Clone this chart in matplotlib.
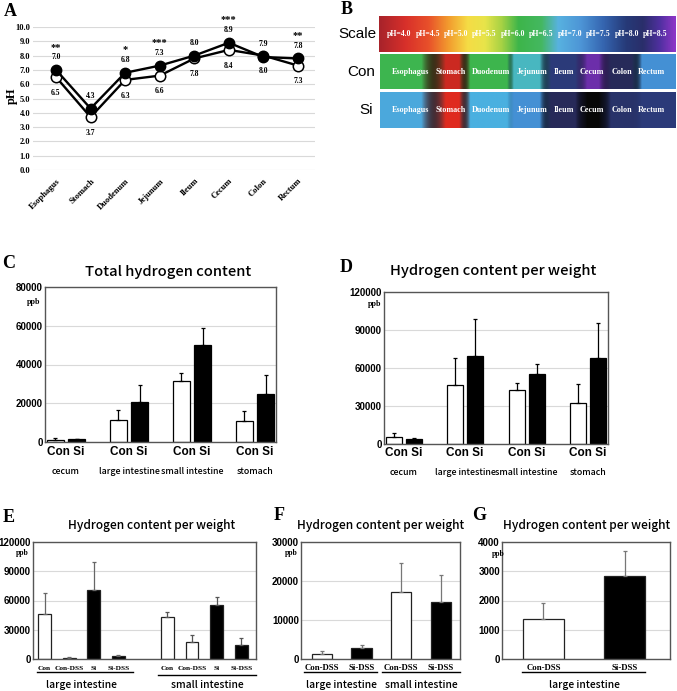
import numpy as np
import matplotlib
matplotlib.use('Agg')
import matplotlib.pyplot as plt
from matplotlib.colors import LinearSegmentedColormap

# ---------------- data ----------------
segments = ['Esophagus', 'Stomach', 'Duodenum', 'Jejunum', 'Ileum', 'Cecum', 'Colon', 'Rectum']
ph_con = [6.5, 3.7, 6.3, 6.6, 7.8, 8.4, 8.0, 7.3]
ph_si = [7.0, 4.3, 6.8, 7.3, 8.0, 8.9, 7.9, 7.8]
ph_sig = ['**', '', '*', '***', '', '***', '', '**']
scale_ph = [4.0, 4.5, 5.0, 5.5, 6.0, 6.5, 7.0, 7.5, 8.0, 8.5]

organs_cd = ['cecum', 'large intestine', 'small intestine', 'stomach']
total_con = [1200, 11500, 31400, 10600]
total_con_sd = [700, 4800, 4400, 5200]
total_si = [1300, 20700, 49900, 24800]
total_si_sd = [400, 8800, 9100, 9600]
perw_con = [5300, 46500, 42500, 32300]
perw_con_sd = [3100, 21500, 5800, 14700]
perw_si = [3700, 69800, 54900, 68000]
perw_si_sd = [1300, 28900, 8600, 27500]

groups_e = ['Con', 'Con-DSS', 'Si', 'Si-DSS']
e_large = [46500, 1400, 70400, 3100]
e_large_sd = [21200, 600, 28700, 700]
e_small = [42600, 17000, 54900, 14300]
e_small_sd = [5800, 7200, 8500, 7200]

groups_f = ['Con-DSS', 'Si-DSS']
f_large = [1370, 2850]
f_large_sd = [600, 850]
f_small = [17300, 14600]
f_small_sd = [7300, 6900]

g_large = [1370, 2850]
g_large_sd = [550, 830]

# ---------------- setup ----------------
W, H = 677, 691
SERIF = 'Liberation Serif'
SANS = 'Liberation Sans'
GOTH = 'Noto Sans CJK JP'

fig = plt.figure(figsize=(W / 100, H / 100), dpi=100)


def rect(l, t, r, b):
    return [l / W, 1 - b / H, (r - l) / W, (b - t) / H]


def ftext(x, y, s, **kw):
    fig.text(x / W, 1 - y / H, s, **kw)


def letter(x, y, s):
    ftext(x, y, s, fontfamily=SERIF, fontweight='bold', fontsize=13, ha='center', va='center')


# ---------------- Panel A ----------------
axA = fig.add_axes(rect(33, 27, 315, 170))
xa = np.arange(len(segments))
axA.plot(xa, ph_con, '-o', color='black', lw=1.7, ms=7.5, mfc='white', mec='black', mew=1.1, zorder=3)
axA.plot(xa, ph_si, '-o', color='black', lw=1.7, ms=7.5, mfc='black', mec='black', zorder=4)
axA.set_xlim(-0.665, 7.49)
axA.set_ylim(0, 10)
yt = np.arange(0, 10.01, 1.0)
axA.set_yticks(yt)
axA.set_yticklabels([f"{v:.1f}" for v in yt], fontfamily=SERIF, fontweight='bold', fontsize=6)
axA.set_xticks(xa)
axA.set_xticklabels(segments, fontfamily=SERIF, fontweight='bold', fontsize=6.2,
                    rotation=45, ha='right', rotation_mode='anchor')
axA.tick_params(length=0, pad=2)
axA.tick_params(axis='x', pad=5)
axA.grid(axis='y', color='#d9d9d9', lw=0.8)
axA.set_axisbelow(True)
for s in axA.spines.values():
    s.set_visible(False)
for i in range(len(segments)):
    axA.text(i, ph_si[i] + 0.9, f"{ph_si[i]:.1f}", ha='center', va='center',
             fontfamily=SERIF, fontweight='bold', fontsize=5.5)
    axA.text(i, ph_con[i] - 1.1, f"{ph_con[i]:.1f}", ha='center', va='center',
             fontfamily=SERIF, fontweight='bold', fontsize=5.5)
    if ph_sig[i]:
        axA.text(i, ph_si[i] + 1.6, ph_sig[i], ha='center', va='center',
                 fontfamily=SERIF, fontweight='bold', fontsize=7.5)
ftext(12, 96, 'pH', fontfamily=SERIF, fontweight='bold', fontsize=9, rotation=90, ha='center', va='center')
letter(10, 11, 'A')

# ---------------- Panel B ----------------
SCALE_LO, SCALE_HI = 3.64, 8.87
scale_stops = [(3.64, '#a8232b'), (4.1, '#d8302a'), (4.5, '#e8502a'), (4.85, '#f29a2e'),
               (5.2, '#f5dc45'), (5.5, '#e8e44a'), (5.8, '#a6d244'), (6.1, '#3db54a'),
               (6.5, '#44b860'), (6.8, '#58b2e0'), (7.2, '#4d95d6'), (7.6, '#3565b0'),
               (8.0, '#263a78'), (8.3, '#2a2e6a'), (8.6, '#5030a0'), (8.87, '#8e36c8')]
scale_cmap = LinearSegmentedColormap.from_list(
    'scale', [((p - SCALE_LO) / (SCALE_HI - SCALE_LO), c) for p, c in scale_stops])

BAR_LO, BAR_HI = 3.5, 9.0
bar_stops = [(3.5, '#c02620'), (3.7, '#cc2a22'), (4.3, '#e02a1e'), (5.2, '#f3d040'),
             (6.0, '#3cb44a'), (6.5, '#3eb650'), (6.6, '#48b8c0'), (6.8, '#4ab0e0'),
             (7.0, '#4ca8dc'), (7.3, '#4490d4'), (7.8, '#2c3c7c'), (8.0, '#262a58'),
             (8.4, '#7030b0'), (8.9, '#080808'), (9.0, '#050505')]
bar_cmap = LinearSegmentedColormap.from_list(
    'bar', [((p - BAR_LO) / (BAR_HI - BAR_LO), c) for p, c in bar_stops])

plateaus = [(0.0, 0.14), (0.222, 0.268), (0.305, 0.43), (0.452, 0.54),
            (0.578, 0.66), (0.70, 0.74), (0.78, 0.85), (0.885, 1.0)]
label_pos = [0.104, 0.239, 0.375, 0.512, 0.62, 0.717, 0.816, 0.917]


def profile_image(values, n=900):
    cols = [np.array(bar_cmap((v - BAR_LO) / (BAR_HI - BAR_LO))[:3]) for v in values]
    xs = (np.arange(n) + 0.5) / n
    img = np.zeros((n, 3))
    for k, x in enumerate(xs):
        done = False
        for i, (a, b) in enumerate(plateaus):
            if a <= x <= b:
                img[k] = cols[i]
                done = True
                break
        if done:
            continue
        for i in range(len(plateaus) - 1):
            e0 = plateaus[i][1]
            s1 = plateaus[i + 1][0]
            if e0 < x < s1:
                t = (x - e0) / (s1 - e0)
                c = (1 - t) * cols[i] + t * cols[i + 1]
                d = min(1.0, np.linalg.norm(cols[i] - cols[i + 1]) / 0.75)
                img[k] = c * (1 - 0.55 * np.sin(np.pi * t) * d)
                break
    return img[None, :, :]


axS = fig.add_axes(rect(379, 16, 676, 52))
xs = np.linspace(0, 1, 900)
axS.imshow(scale_cmap(xs)[None, :, :3], aspect='auto', extent=[0, 1, 0, 1])
axS.set_xlim(0, 1); axS.set_ylim(0, 1); axS.axis('off')
for p in scale_ph:
    axS.text((p - SCALE_LO) / (SCALE_HI - SCALE_LO), 0.5, f"pH={p:.1f}", color='white',
             ha='center', va='center', fontfamily=SERIF, fontweight='bold', fontsize=5.6)

for vals, (t, b) in [(ph_con, (54, 89)), (ph_si, (92, 128))]:
    axb = fig.add_axes(rect(380, t, 676, b))
    axb.imshow(profile_image(vals), aspect='auto', extent=[0, 1, 0, 1])
    axb.set_xlim(0, 1); axb.set_ylim(0, 1); axb.axis('off')
    for name, xp in zip(segments, label_pos):
        axb.text(xp, 0.5, name, color='white', ha='center', va='center',
                 fontfamily=SERIF, fontweight='bold', fontsize=5.9)

ftext(376, 34, 'Scale', fontfamily=SANS, fontsize=11, ha='right', va='center')
ftext(375, 72, 'Con', fontfamily=SANS, fontsize=11, ha='right', va='center')
ftext(373, 110, 'Si', fontfamily=SANS, fontsize=11, ha='right', va='center')
letter(347, 10, 'B')


# ---------------- bar helpers ----------------
def style_bar_axes(ax, ymax, step):
    ax.set_ylim(0, ymax)
    ticks = np.arange(0, ymax + 1, step)
    ax.set_yticks(ticks)
    ax.set_yticklabels([f"{int(v)}" for v in ticks], fontfamily=SANS, fontweight='bold', fontsize=7)
    ax.tick_params(axis='y', length=0, pad=1.5)
    ax.set_xticks([])
    ax.grid(axis='y', color='#d9d9d9', lw=0.8)
    ax.set_axisbelow(True)
    for s in ax.spines.values():
        s.set_color('#555555')
        s.set_linewidth(1)


def draw_bars(ax, x, vals, sd, face, width, ecolor='black', edge='black'):
    ax.bar(x, vals, width, color=face, edgecolor=edge, linewidth=0.9, zorder=2)
    ax.errorbar(x, vals, yerr=[np.zeros(len(vals)), sd], fmt='none', ecolor=ecolor,
                elinewidth=0.9, capsize=1.5, capthick=0.9, zorder=3)


def under_text(ax, x, yfrac, s, **kw):
    ax.text(x, yfrac, s, transform=ax.get_xaxis_transform(), ha='center', va='center',
            clip_on=False, **kw)


def under_line(ax, x0, x1, yfrac):
    ax.plot([x0, x1], [yfrac, yfrac], transform=ax.get_xaxis_transform(), color='black',
            lw=1.0, clip_on=False)


# ---------------- Panel C ----------------
axC = fig.add_axes(rect(45, 287, 276, 442))
xc = np.arange(len(organs_cd))
draw_bars(axC, xc - 0.17, total_con, total_con_sd, 'white', 0.265)
draw_bars(axC, xc + 0.17, total_si, total_si_sd, 'black', 0.265)
axC.set_xlim(-0.333, 3.333)
style_bar_axes(axC, 80000, 20000)
for i, name in enumerate(organs_cd):
    under_text(axC, i, -0.065, 'Con Si', fontfamily=SANS, fontweight='bold', fontsize=8.5)
    under_text(axC, i, -0.19, name, fontfamily=GOTH, fontweight='medium', fontsize=6.4)
ftext(168, 272, 'Total hydrogen content', fontfamily=GOTH, fontweight='medium', fontsize=10.6,
      ha='center', va='center')
ftext(34, 302, 'ppb', fontfamily=SERIF, fontweight='bold', fontsize=5.8, ha='center', va='center')
letter(9, 264, 'C')

# ---------------- Panel D ----------------
axD = fig.add_axes(rect(384, 292, 608, 444))
xd = np.arange(len(organs_cd))
draw_bars(axD, xd - 0.163, perw_con, perw_con_sd, 'white', 0.26)
draw_bars(axD, xd + 0.163, perw_si, perw_si_sd, 'black', 0.26)
axD.set_xlim(-0.32, 3.326)
style_bar_axes(axD, 120000, 30000)
for i, name in enumerate(organs_cd):
    under_text(axD, i, -0.06, 'Con Si', fontfamily=SANS, fontweight='bold', fontsize=8.5)
    under_text(axD, i, -0.19, name, fontfamily=GOTH, fontweight='medium', fontsize=6.4)
ftext(493, 271, 'Hydrogen content per weight', fontfamily=GOTH, fontweight='medium', fontsize=10.6,
      ha='center', va='center')
ftext(375, 304, 'ppb', fontfamily=SERIF, fontweight='bold', fontsize=5.8, ha='center', va='center')
letter(346, 268, 'D')

# ---------------- Panel E ----------------
axE = fig.add_axes(rect(33, 542, 256, 659))
faces4 = ['white', 'white', 'black', 'black']
xe_l = np.arange(4)
xe_s = np.arange(4) + 5
draw_bars(axE, xe_l, e_large, e_large_sd, faces4, 0.52, ecolor='#666666', edge='#222222')
draw_bars(axE, xe_s, e_small, e_small_sd, faces4, 0.52, ecolor='#555555', edge='#222222')
axE.set_xlim(-0.47, 8.6)
style_bar_axes(axE, 120000, 30000)
for xs_ in (xe_l, xe_s):
    for x, g in zip(xs_, groups_e):
        under_text(axE, x, -0.077, g, fontfamily=SERIF, fontweight='bold', fontsize=5.3)
under_line(axE, -0.3, 3.6, -0.115)
under_line(axE, 4.61, 8.6, -0.135)
under_text(axE, 1.5, -0.222, 'large intestine', fontfamily=GOTH, fontweight='medium', fontsize=7.4)
under_text(axE, 6.6, -0.222, 'small intestine', fontfamily=GOTH, fontweight='medium', fontsize=7.4)
ftext(152, 525, 'Hydrogen content per weight', fontfamily=GOTH, fontweight='medium', fontsize=8.6,
      ha='center', va='center')
ftext(22, 553, 'ppb', fontfamily=SERIF, fontweight='bold', fontsize=5.5, ha='center', va='center')
letter(9, 517, 'E')

# ---------------- Panel F ----------------
axF = fig.add_axes(rect(301, 542, 460, 659))
draw_bars(axF, [0, 1], f_large, f_large_sd, ['white', 'black'], 0.51, ecolor='#777777', edge='#222222')
draw_bars(axF, [2, 3], f_small, f_small_sd, ['white', 'black'], 0.51, ecolor='#777777', edge='#222222')
axF.set_xlim(-0.53, 3.49)
style_bar_axes(axF, 30000, 10000)
for x, g in zip(range(4), groups_f * 2):
    under_text(axF, x, -0.077, g, fontfamily=SERIF, fontweight='bold', fontsize=6.3)
under_line(axF, -0.46, 1.39, -0.115)
under_line(axF, 1.52, 3.49, -0.115)
under_text(axF, 0.5, -0.222, 'large intestine', fontfamily=GOTH, fontweight='medium', fontsize=7.4)
under_text(axF, 2.5, -0.222, 'small intestine', fontfamily=GOTH, fontweight='medium', fontsize=7.4)
ftext(381, 525, 'Hydrogen content per weight', fontfamily=GOTH, fontweight='medium', fontsize=8.6,
      ha='center', va='center')
ftext(291, 553, 'ppb', fontfamily=SERIF, fontweight='bold', fontsize=5.5, ha='center', va='center')
letter(279, 516, 'F')

# ---------------- Panel G ----------------
axG = fig.add_axes(rect(502, 542, 670, 659))
draw_bars(axG, [0, 1], g_large, g_large_sd, ['white', 'black'], 0.51, ecolor='#777777', edge='#222222')
axG.set_xlim(-0.51, 1.56)
style_bar_axes(axG, 4000, 1000)
for x, g in zip(range(2), groups_f):
    under_text(axG, x, -0.077, g, fontfamily=SERIF, fontweight='bold', fontsize=6.3)
under_line(axG, -0.26, 1.25, -0.115)
under_text(axG, 0.5, -0.222, 'large intestine', fontfamily=GOTH, fontweight='medium', fontsize=7.4)
ftext(587, 525, 'Hydrogen content per weight', fontfamily=GOTH, fontweight='medium', fontsize=8.6,
      ha='center', va='center')
ftext(498, 554, 'ppb', fontfamily=SERIF, fontweight='bold', fontsize=5.5, ha='center', va='center')
letter(479, 516, 'G')

fig.savefig('out.png', dpi=100)
